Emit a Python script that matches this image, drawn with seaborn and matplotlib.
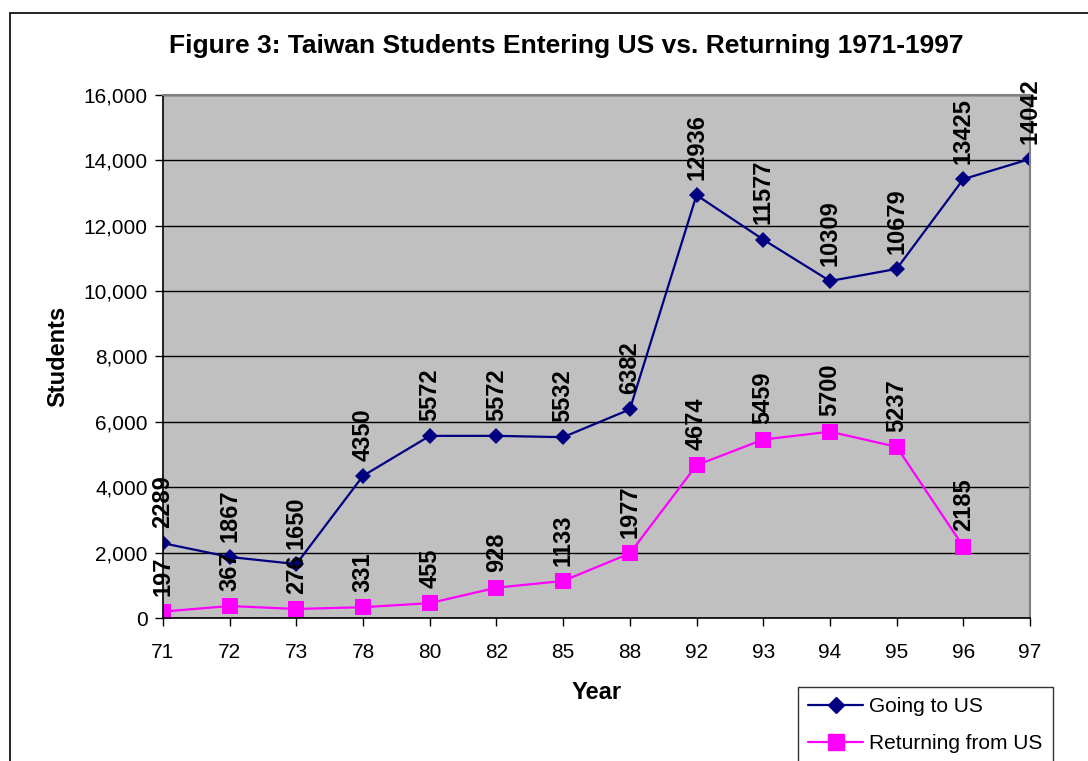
import pandas as pd
import seaborn as sns
import matplotlib.pyplot as plt
from matplotlib.patches import Rectangle

# values
years = ["71", "72", "73", "78", "80", "82", "85", "88", "92", "93", "94", "95", "96", "97"]
going = [2289, 1867, 1650, 4350, 5572, 5572, 5532, 6382, 12936, 11577, 10309, 10679, 13425, 14042]
returning = [197, 367, 276, 331, 455, 928, 1133, 1977, 4674, 5459, 5700, 5237, 2185, None]

df_go = pd.DataFrame({"Year": years, "Students": going, "series": "Going to US"})
df_ret = pd.DataFrame({"Year": years, "Students": returning, "series": "Returning from US"})
df = pd.concat([df_go, df_ret]).dropna()

sns.set_style("white")
plt.rcParams['font.family'] = ['Liberation Sans', 'DejaVu Sans']
plt.rcParams.update({"text.color": "black", "axes.labelcolor": "black",
                     "xtick.color": "black", "ytick.color": "black"})

fig = plt.figure(figsize=(10.88, 7.61), dpi=100)
ax = fig.add_axes([0.1498, 0.1879, 0.7969, 0.6873])

pal = {"Going to US": "#000080", "Returning from US": "#FF00FF"}
sns.lineplot(data=df, x="Year", y="Students", hue="series", style="series",
             palette=pal, markers={"Going to US": "D", "Returning from US": "s"},
             dashes=False, sort=False, linewidth=1.6, markeredgewidth=0, ax=ax,
             legend=False)
for ln, ms in zip(ax.lines, [8.5, 12]):
    ln.set_markersize(ms)

# data labels
for vals in (going, returning):
    for i, v in enumerate(vals):
        if v is None:
            continue
        ax.annotate(str(v), (i, v), xytext=(0, 11), textcoords="offset points",
                    rotation=90, ha="center", va="bottom", fontsize=17,
                    fontweight="bold", color="black", clip_on=False)

ax.set_facecolor("#C0C0C0")
ax.set_xlim(0, len(years) - 1)
ax.set_ylim(0, 16000)
ax.set_yticks(range(0, 16001, 2000))
ax.set_yticklabels([f"{t:,}" for t in range(0, 16001, 2000)])
ax.yaxis.grid(True, color="black", linewidth=1)
ax.xaxis.grid(False)
ax.set_axisbelow(True)
ax.tick_params(axis="both", labelsize=15, direction="out", length=6, width=1,
               color="black", labelcolor="black", left=True, bottom=True)
ax.tick_params(axis="x", pad=12)
ax.tick_params(axis="y", pad=5)
for s in ["top", "right"]:
    ax.spines[s].set_color("#808080")
    ax.spines[s].set_linewidth(1.5)
for s in ["left", "bottom"]:
    ax.spines[s].set_color("black")
    ax.spines[s].set_linewidth(1.2)

ax.set_xlabel("Year", fontsize=17, fontweight="bold", labelpad=14)
ax.set_ylabel("Students", fontsize=17, fontweight="bold", labelpad=10)
fig.suptitle("Figure 3: Taiwan Students Entering US vs. Returning 1971-1997",
             x=0.52, y=0.955, fontsize=19, fontweight="bold")

# legend, box running off the bottom edge like the original
handles = [plt.Line2D([], [], color="#000080", marker="D", markersize=8.5, lw=1.6),
           plt.Line2D([], [], color="#FF00FF", marker="s", markersize=12, lw=1.6)]
leg = fig.legend(handles, ["Going to US", "Returning from US"],
                 loc="upper left", bbox_to_anchor=(798 / 1088, 1 - 687 / 761),
                 fontsize=15, frameon=True, fancybox=False, edgecolor="black",
                 borderpad=0.5, handlelength=2.6, handletextpad=0.3,
                 labelspacing=0.85, borderaxespad=0)
leg.get_frame().set_linewidth(1)

# outer chart frame
fig.patches.append(Rectangle((10 / 1088, -0.1), 1.2, 1 - 13 / 761 + 0.1,
                             transform=fig.transFigure, fill=False,
                             edgecolor="black", linewidth=1.2))

fig.savefig("out.png", dpi=100)
